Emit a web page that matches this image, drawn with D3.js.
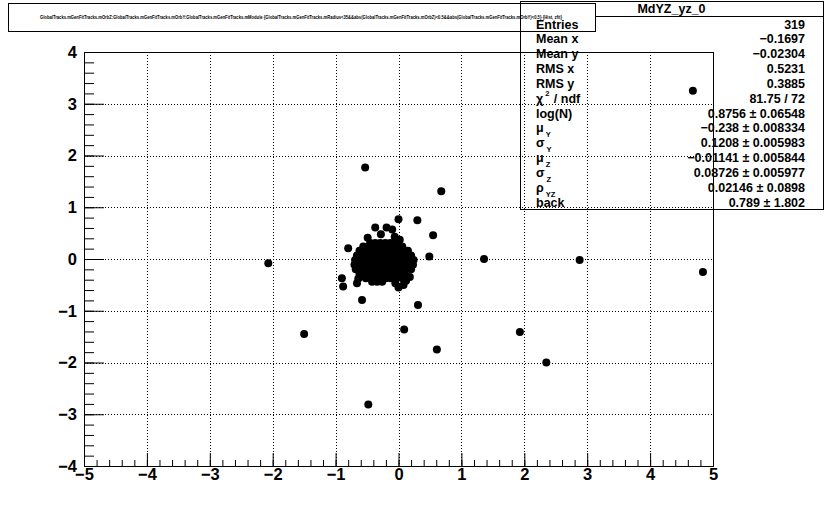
<!DOCTYPE html>
<html>
<head>
<meta charset="utf-8">
<script src="https://cdn.jsdelivr.net/npm/d3@7"></script>
<style>
  body { margin: 0; background: #fff; }
  svg { display: block; font-family: "Liberation Sans", Arial, sans-serif; font-weight: bold; }
</style>
</head>
<body>
<svg id="chart" width="839" height="518"></svg>
<script>
// ---------- data ----------
const xTickLabels = [-5, -4, -3, -2, -1, 0, 1, 2, 3, 4, 5];
const yTickLabels = [-4, -3, -2, -1, 0, 1, 2, 3, 4];

const chartTitle = "MdYZ_yz_0";
const drawTitle = "GlobalTracks.mGenFitTracks.mOrbZ:GlobalTracks.mGenFitTracks.mOrbY:GlobalTracks.mGenFitTracks.mModule {GlobalTracks.mGenFitTracks.mRadius<35&&abs(GlobalTracks.mGenFitTracks.mOrbZ)<0.5&&abs(GlobalTracks.mGenFitTracks.mOrbY)<0.5} {Hist, zfit}";

const statLabels = ["Entries", "Mean x", "Mean y", "RMS x", "RMS y", "χ|2| / ndf", "log(N)", "μ_Y", "σ_Y", "μ_Z", "σ_Z", "ρ_YZ", "back"];
const statValues = ["319", "\u22120.1697", "\u22120.02304", "0.5231", "0.3885", "81.75 / 72",
  "0.8756 \u00b1 0.06548", "\u22120.238 \u00b1 0.008334", "0.1208 \u00b1 0.005983",
  "\u22120.01141 \u00b1 0.005844", "0.08726 \u00b1 0.005977", "0.02146 \u00b1 0.0898", "0.789 \u00b1 1.802"];

// isolated entries (Y, Z)
const outliers = [
  [4.68, 3.25], [-0.53, 1.77], [0.68, 1.31], [-2.07, -0.08], [1.36, 0.00], [2.88, -0.02],
  [4.84, -0.25], [-1.50, -1.45], [1.93, -1.41], [2.35, -2.00], [0.61, -1.75], [0.09, -1.36],
  [0.31, -0.89], [-0.48, -2.81], [-0.58, -0.79], [-0.80, 0.21], [0.00, 0.77], [0.30, 0.75],
  [0.55, 0.46], [0.49, 0.05], [-0.37, 0.61], [-0.19, 0.61], [-0.10, 0.57], [-0.49, 0.41],
  [-0.28, 0.48], [-0.06, 0.43], [0.02, 0.37], [-0.90, -0.37], [-0.88, -0.53], [-0.64, -0.38],
  [-0.66, -0.47], [0.18, -0.35], [0.12, -0.42], [0.08, -0.50], [0.00, -0.55], [-0.05, -0.47]
];

// dense core (Y, Z)
const cluster = [
  [-0.45, 0.31], [-0.37, 0.31], [-0.29, 0.31], [-0.21, 0.31], [-0.13, 0.31], [-0.05, 0.31],
  [-0.56, 0.24], [-0.48, 0.24], [-0.40, 0.24], [-0.32, 0.24], [-0.24, 0.24], [-0.16, 0.24], [-0.08, 0.24], [0.00, 0.24], [0.06, 0.24],
  [-0.62, 0.16], [-0.54, 0.16], [-0.46, 0.16], [-0.38, 0.16], [-0.30, 0.16], [-0.22, 0.16], [-0.14, 0.16], [-0.06, 0.16], [0.02, 0.16], [0.10, 0.16], [0.15, 0.16],
  [-0.66, 0.07], [-0.58, 0.07], [-0.50, 0.07], [-0.42, 0.07], [-0.34, 0.07], [-0.26, 0.07], [-0.18, 0.07], [-0.10, 0.07], [-0.02, 0.07], [0.06, 0.07], [0.14, 0.07], [0.20, 0.07],
  [-0.69, -0.02], [-0.61, -0.02], [-0.53, -0.02], [-0.45, -0.02], [-0.37, -0.02], [-0.29, -0.02], [-0.21, -0.02], [-0.13, -0.02], [-0.05, -0.02], [0.03, -0.02], [0.11, -0.02], [0.19, -0.02], [0.24, -0.02],
  [-0.70, -0.11], [-0.62, -0.11], [-0.54, -0.11], [-0.46, -0.11], [-0.38, -0.11], [-0.30, -0.11], [-0.22, -0.11], [-0.14, -0.11], [-0.06, -0.11], [0.02, -0.11], [0.10, -0.11], [0.18, -0.11], [0.23, -0.11],
  [-0.68, -0.20], [-0.60, -0.20], [-0.52, -0.20], [-0.44, -0.20], [-0.36, -0.20], [-0.28, -0.20], [-0.20, -0.20], [-0.12, -0.20], [-0.04, -0.20], [0.04, -0.20], [0.12, -0.20], [0.20, -0.20],
  [-0.62, -0.29], [-0.54, -0.29], [-0.46, -0.29], [-0.38, -0.29], [-0.30, -0.29], [-0.22, -0.29], [-0.14, -0.29], [-0.06, -0.29], [0.02, -0.29], [0.10, -0.29],
  [-0.52, -0.37], [-0.44, -0.37], [-0.36, -0.37], [-0.28, -0.37], [-0.20, -0.37], [-0.12, -0.37], [-0.04, -0.37], [0.06, -0.37],
  [-0.42, -0.44], [-0.34, -0.44], [-0.26, -0.44],
  [-0.25, 0.02], [-0.22, -0.05], [-0.27, -0.08], [-0.20, 0.05], [-0.31, 0.01], [-0.18, -0.03]
];

// ---------- layout ----------
const svg = d3.select("#chart");
const L = 84, R = 713, T = 52, B = 466;
const x = d3.scaleLinear().domain([-5, 5]).range([L, R]);
const y = d3.scaleLinear().domain([-4, 4]).range([B, T]);
const fmt = d => d < 0 ? "\u2212" + Math.abs(d) : String(d);

svg.append("rect").attr("width", 839).attr("height", 518).attr("fill", "#fff");

// grid
const grid = svg.append("g").attr("stroke", "#000").attr("stroke-width", 1).attr("stroke-dasharray", "1,2");
grid.selectAll("line.gx").data(xTickLabels.slice(1, -1)).join("line")
  .attr("x1", d => Math.round(x(d)) + 0.5).attr("x2", d => Math.round(x(d)) + 0.5)
  .attr("y1", T).attr("y2", B);
grid.selectAll("line.gy").data(yTickLabels.slice(1, -1)).join("line")
  .attr("y1", d => Math.round(y(d)) + 0.5).attr("y2", d => Math.round(y(d)) + 0.5)
  .attr("x1", L).attr("x2", R);

// axes
const xMinor = d3.range(-50, 51, 2).map(v => v / 10);
const yMinor = d3.range(-40, 41, 2).map(v => v / 10);

const gxMin = svg.append("g").attr("transform", `translate(0,${B})`)
  .call(d3.axisBottom(x).tickValues(xMinor).tickSize(-6).tickFormat(""));
const gxMaj = svg.append("g").attr("transform", `translate(0,${B})`)
  .call(d3.axisBottom(x).tickValues(xTickLabels).tickSize(-13).tickPadding(2.5).tickFormat(fmt));
const gyMin = svg.append("g").attr("transform", `translate(${L},0)`)
  .call(d3.axisLeft(y).tickValues(yMinor).tickSize(-10).tickFormat(""));
const gyMaj = svg.append("g").attr("transform", `translate(${L},0)`)
  .call(d3.axisLeft(y).tickValues(yTickLabels).tickSize(-20).tickPadding(7).tickFormat(fmt));

[gxMin, gxMaj, gyMin, gyMaj].forEach(g => {
  g.select(".domain").remove();
  g.selectAll("line").attr("stroke", "#000");
  g.selectAll("text").attr("fill", "#000").attr("font-size", 16.5)
    .attr("font-family", "'Liberation Sans', Arial, sans-serif").attr("font-weight", "bold");
});

// frame
svg.append("rect").attr("x", L + 0.5).attr("y", T + 0.5).attr("width", R - L).attr("height", B - T)
  .attr("fill", "none").attr("stroke", "#000");

// markers
svg.append("g").selectAll("circle").data(cluster.concat(outliers)).join("circle")
  .attr("cx", d => x(d[0])).attr("cy", d => y(d[1])).attr("r", 4).attr("fill", "#000");

// title box
svg.append("rect").attr("x", 8.5).attr("y", 3.5).attr("width", 587).attr("height", 28)
  .attr("fill", "none").attr("stroke", "#000");
svg.append("text").attr("x", 40).attr("y", 19).attr("font-size", 4.6)
  .attr("textLength", 522).attr("lengthAdjust", "spacingAndGlyphs").text(drawTitle);

// stats box
const SX = 520, SR = 823;
svg.append("rect").attr("x", SX + 0.5).attr("y", 1.5).attr("width", SR - SX).attr("height", 208)
  .attr("fill", "none").attr("stroke", "#000");
svg.append("line").attr("x1", 595).attr("x2", SR).attr("y1", 16.5).attr("y2", 16.5).attr("stroke", "#000");
svg.append("text").attr("x", (SX + SR) / 2).attr("y", 13).attr("text-anchor", "middle")
  .attr("font-size", 12.5).text(chartTitle);

const rowY = i => 28.5 + i * 14.85;
statLabels.forEach((lab, i) => {
  const t = svg.append("text").attr("x", 536).attr("y", rowY(i)).attr("font-size", 12.5);
  if (lab.includes("|")) {
    const [a, sup, b] = lab.split("|");
    t.append("tspan").text(a);
    t.append("tspan").attr("font-size", 7.5).attr("dy", -7).attr("dx", 2).text(sup);
    t.append("tspan").attr("dy", 7).attr("dx", 1).text(b);
  } else if (lab.includes("_")) {
    const [a, sub] = lab.split("_");
    t.append("tspan").text(a);
    t.append("tspan").attr("font-size", 7.5).attr("dy", 5).attr("dx", 2).text(sub);
  } else {
    t.text(lab);
  }
});
statValues.forEach((v, i) => {
  svg.append("text").attr("x", 805).attr("y", rowY(i)).attr("text-anchor", "end")
    .attr("font-size", 12.5).text(v);
});
</script>
</body>
</html>
